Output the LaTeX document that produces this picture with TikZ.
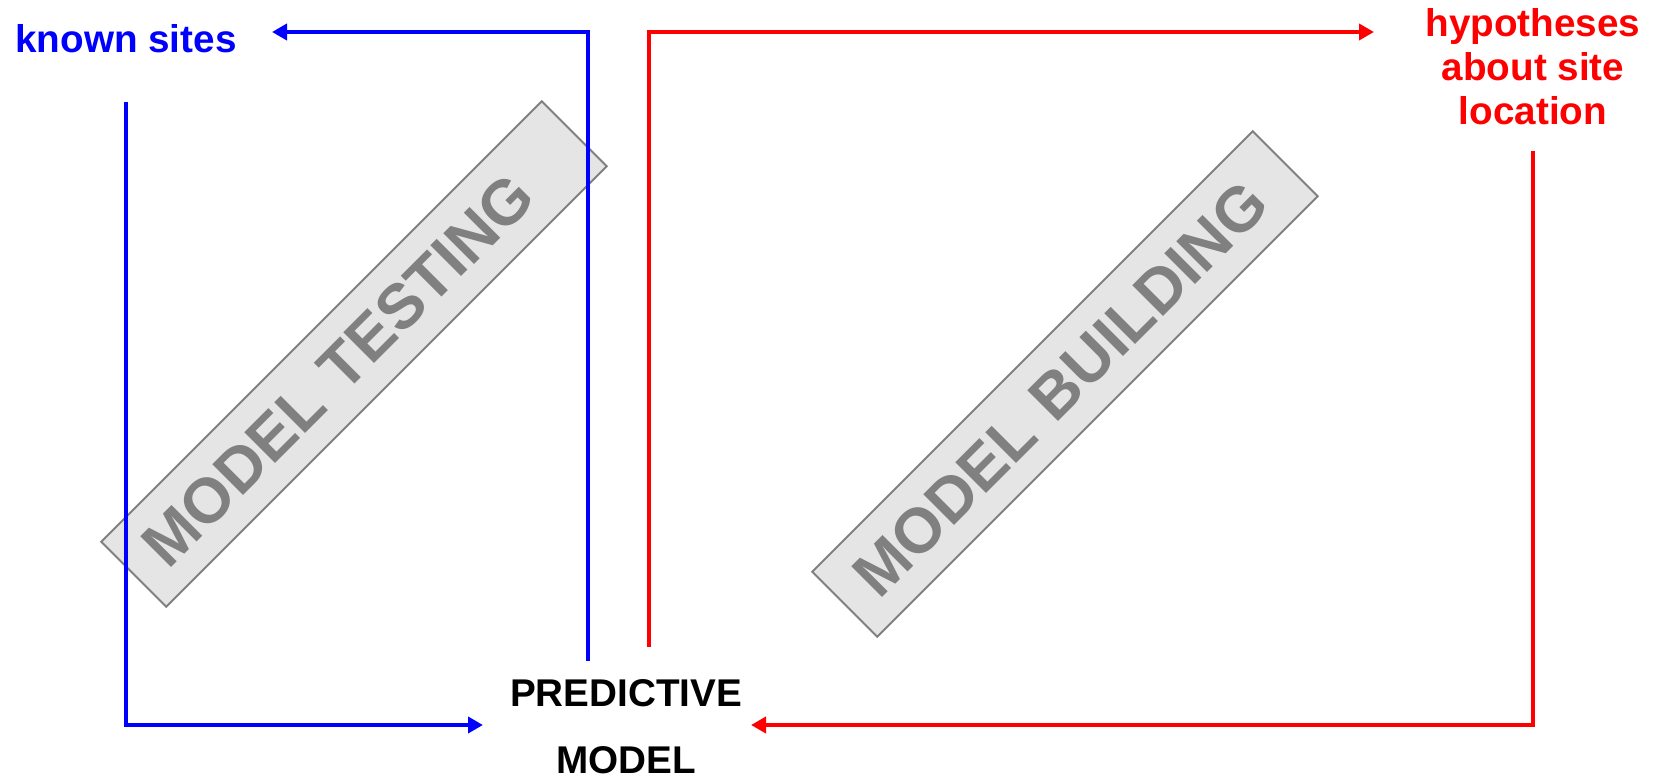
\documentclass[tikz,border=0pt]{standalone}
\usepackage{fontspec}
\setmainfont{Liberation Sans}
\usetikzlibrary{arrows.meta}
\tikzset{x=0.02cm,y=-0.02cm,
  flow/.style={line width=0.08cm,-{Triangle[length=0.3cm,width=0.32cm]}},
  testflow/.style={flow,blue},
  buildflow/.style={flow,red},
  notetext/.style={inner sep=0pt,align=center,font=\fontsize{22}{25.3}\selectfont\bfseries},
  stagebox/.style={draw=gray,fill=black!10,text=gray,line width=0.04cm,rotate=45,
    minimum height=1.84cm,inner xsep=0.54cm,text width=11.38cm,align=left,
    font=\fontsize{36}{40}\selectfont\bfseries}}

\begin{document}
\begin{tikzpicture}
  \useasboundingbox (0,0) rectangle (1663,777);

  \node [stagebox] (testing)  at (354,354)  {MODEL TESTING};
  \node [stagebox] (building) at (1065,384) {MODEL BUILDING};

  \node [notetext,blue] (known) [anchor=base] at (126,53)  {known sites};
  \node [notetext,red]  (hyp)   [anchor=base] at (1533,125) {hypotheses\\about site\\location};
  \node [notetext,font=\fontsize{22}{38.1}\selectfont\bfseries]
                        (pm)    [anchor=base] at (626,773) {PREDICTIVE\\MODEL};

  \coordinate (kin)  at (272,32);
  \coordinate (hin)  at (1374,32);
  \coordinate (tin)  at (483,725);
  \coordinate (bin)  at (751,725);
  \coordinate (tout) at (588,661);
  \coordinate (bout) at (649,647);

  \draw [testflow]  ([yshift=-0.96cm]known.south) |- (tin);
  \draw [testflow]  (tout) |- (kin);
  \draw [buildflow] (bout) |- (hin);
  \draw [buildflow] ([yshift=-0.5cm]hyp.south) |- (bin);
\end{tikzpicture}
\end{document}
